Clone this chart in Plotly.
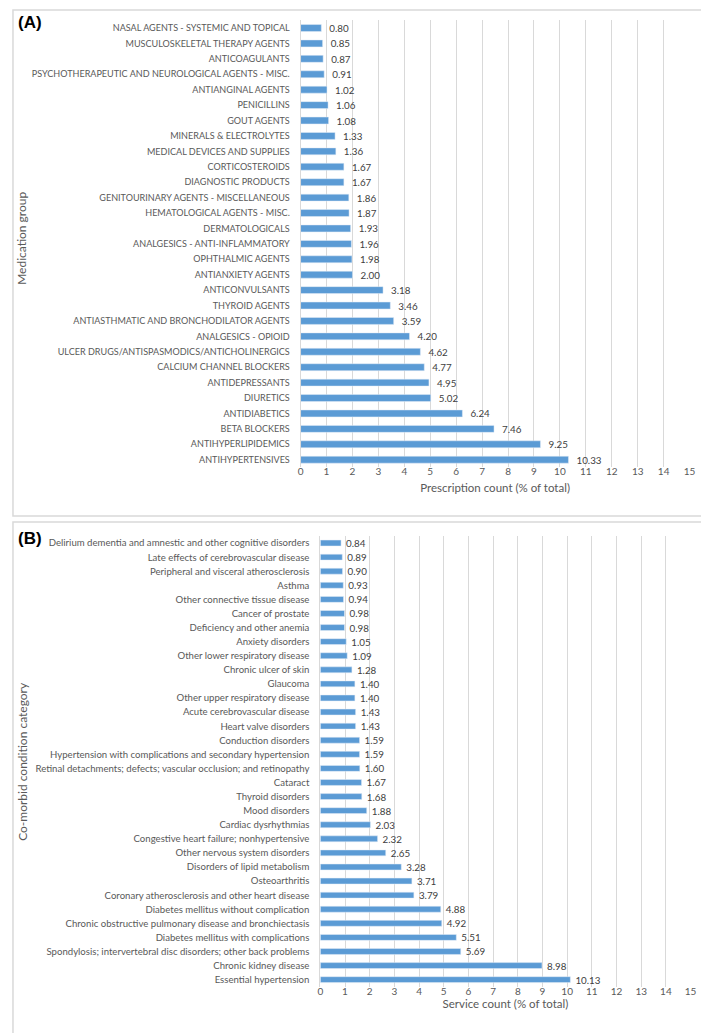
import plotly.graph_objects as go

# ---------------- Data ----------------
med_groups = [
    "NASAL AGENTS - SYSTEMIC AND TOPICAL",
    "MUSCULOSKELETAL THERAPY AGENTS",
    "ANTICOAGULANTS",
    "PSYCHOTHERAPEUTIC AND NEUROLOGICAL AGENTS - MISC.",
    "ANTIANGINAL AGENTS",
    "PENICILLINS",
    "GOUT AGENTS",
    "MINERALS & ELECTROLYTES",
    "MEDICAL DEVICES AND SUPPLIES",
    "CORTICOSTEROIDS",
    "DIAGNOSTIC PRODUCTS",
    "GENITOURINARY AGENTS - MISCELLANEOUS",
    "HEMATOLOGICAL AGENTS - MISC.",
    "DERMATOLOGICALS",
    "ANALGESICS - ANTI-INFLAMMATORY",
    "OPHTHALMIC AGENTS",
    "ANTIANXIETY AGENTS",
    "ANTICONVULSANTS",
    "THYROID AGENTS",
    "ANTIASTHMATIC AND BRONCHODILATOR AGENTS",
    "ANALGESICS - OPIOID",
    "ULCER DRUGS/ANTISPASMODICS/ANTICHOLINERGICS",
    "CALCIUM CHANNEL BLOCKERS",
    "ANTIDEPRESSANTS",
    "DIURETICS",
    "ANTIDIABETICS",
    "BETA BLOCKERS",
    "ANTIHYPERLIPIDEMICS",
    "ANTIHYPERTENSIVES",
]
med_values = [0.80, 0.85, 0.87, 0.91, 1.02, 1.06, 1.08, 1.33, 1.36, 1.67, 1.67,
              1.86, 1.87, 1.93, 1.96, 1.98, 2.00, 3.18, 3.46, 3.59, 4.20, 4.62,
              4.77, 4.95, 5.02, 6.24, 7.46, 9.25, 10.33]

conditions = [
    "Delirium dementia and amnestic and other cognitive disorders",
    "Late effects of cerebrovascular disease",
    "Peripheral and visceral atherosclerosis",
    "Asthma",
    "Other connective tissue disease",
    "Cancer of prostate",
    "Deficiency and other anemia",
    "Anxiety disorders",
    "Other lower respiratory disease",
    "Chronic ulcer of skin",
    "Glaucoma",
    "Other upper respiratory disease",
    "Acute cerebrovascular disease",
    "Heart valve disorders",
    "Conduction disorders",
    "Hypertension with complications and secondary hypertension",
    "Retinal detachments; defects; vascular occlusion; and retinopathy",
    "Cataract",
    "Thyroid disorders",
    "Mood disorders",
    "Cardiac dysrhythmias",
    "Congestive heart failure; nonhypertensive",
    "Other nervous system disorders",
    "Disorders of lipid metabolism",
    "Osteoarthritis",
    "Coronary atherosclerosis and other heart disease",
    "Diabetes mellitus without complication",
    "Chronic obstructive pulmonary disease and bronchiectasis",
    "Diabetes mellitus with complications",
    "Spondylosis; intervertebral disc disorders; other back problems",
    "Chronic kidney disease",
    "Essential hypertension",
]
cond_values = [0.84, 0.89, 0.90, 0.93, 0.94, 0.98, 0.98, 1.05, 1.09, 1.28, 1.40,
               1.40, 1.43, 1.43, 1.59, 1.59, 1.60, 1.67, 1.68, 1.88, 2.03, 2.32,
               2.65, 3.28, 3.71, 3.79, 4.88, 4.92, 5.51, 5.69, 8.98, 10.13]

x_ticks = list(range(0, 16))
x_title_a = "Prescription count (% of total)"
x_title_b = "Service count (% of total)"
y_title_a = "Medication group"
y_title_b = "Co-morbid condition category"

# ---------------- Style ----------------
W, H = 709, 1033
FONT = "Lato, Liberation Sans, sans-serif"
BAR = "#5b9bd5"
GRID = "#d9d9d9"
TXT = "#595959"
LBL = "#404040"


def px_x(p):
    return p / W


def px_y(p):
    return 1 - p / H


fig = go.Figure()

fig.add_trace(go.Bar(
    x=med_values, y=med_groups, orientation="h", marker_color=BAR,
    width=0.45, xaxis="x", yaxis="y",
    text=[f"{v:.2f}" for v in med_values], texttemplate="  %{text}",
    textposition="outside", constraintext="none", cliponaxis=False,
    textfont=dict(family=FONT, size=9.8, color=LBL), showlegend=False,
))
fig.add_trace(go.Bar(
    x=cond_values, y=conditions, orientation="h", marker_color=BAR,
    width=0.42, xaxis="x2", yaxis="y2",
    text=[f"{v:.2f}" for v in cond_values], texttemplate="  %{text}",
    textposition="outside", constraintext="none", cliponaxis=False,
    textfont=dict(family=FONT, size=9.8, color=LBL), showlegend=False,
))

xcommon = dict(range=[0, 15], tickvals=x_ticks, showgrid=True, gridcolor=GRID,
               gridwidth=1, zeroline=False, showline=False, ticks="",
               tickfont=dict(family=FONT, size=10, color=TXT),
               ticklabelstandoff=-3, fixedrange=True)
ycommon = dict(type="category", showgrid=False, zeroline=False, showline=True,
               linecolor=GRID, linewidth=1, ticks="",
               ticklabelstandoff=8, automargin=False)

fig.update_layout(
    width=W, height=H, margin=dict(l=0, r=0, t=0, b=0),
    paper_bgcolor="white", plot_bgcolor="white",
    font=dict(family=FONT, color=TXT),
    xaxis=dict(xcommon, domain=[px_x(293.3), px_x(687.3)], anchor="y",
               title=dict(text=x_title_a, standoff=7,
                          font=dict(family=FONT, size=11.5, color=TXT))),
    yaxis=dict(ycommon, domain=[px_y(459.4), px_y(12.3)], anchor="x",
               range=[len(med_groups) - 0.5, -0.5],
               tickfont=dict(family=FONT, size=9.05, color=TXT)),
    xaxis2=dict(xcommon, domain=[px_x(313.3), px_x(688.3)], anchor="y2",
                title=dict(text=x_title_b, standoff=4,
                           font=dict(family=FONT, size=11.5, color=TXT))),
    yaxis2=dict(ycommon, domain=[px_y(978.7), px_y(528.0)], anchor="x2",
                range=[len(conditions) - 0.5, -0.5],
                tickfont=dict(family=FONT, size=9.6, color=TXT)),
    shapes=[
        dict(type="rect", xref="paper", yref="paper",
             x0=px_x(2), x1=px_x(702), y0=px_y(508), y1=px_y(2),
             line=dict(color=GRID, width=1.5), layer="below"),
        dict(type="rect", xref="paper", yref="paper",
             x0=px_x(2), x1=px_x(702), y0=px_y(1029), y1=px_y(514),
             line=dict(color=GRID, width=1.5), layer="below"),
    ],
    annotations=[
        dict(text="<b>(A)</b>", x=px_x(5), y=px_y(14.5), xref="paper", yref="paper",
             xanchor="left", yanchor="middle", showarrow=False,
             font=dict(family="Liberation Sans, Arial, sans-serif", size=17, color="#000000")),
        dict(text="<b>(B)</b>", x=px_x(5), y=px_y(530), xref="paper", yref="paper",
             xanchor="left", yanchor="middle", showarrow=False,
             font=dict(family="Liberation Sans, Arial, sans-serif", size=17, color="#000000")),
        dict(text=y_title_a, x=px_x(10), y=px_y(230), xref="paper", yref="paper",
             xanchor="center", yanchor="middle", textangle=-90, showarrow=False,
             font=dict(family=FONT, size=12, color=TXT)),
        dict(text=y_title_b, x=px_x(11), y=px_y(753), xref="paper", yref="paper",
             xanchor="center", yanchor="middle", textangle=-90, showarrow=False,
             font=dict(family=FONT, size=12, color=TXT)),
    ],
)

fig.write_html("out.html")
